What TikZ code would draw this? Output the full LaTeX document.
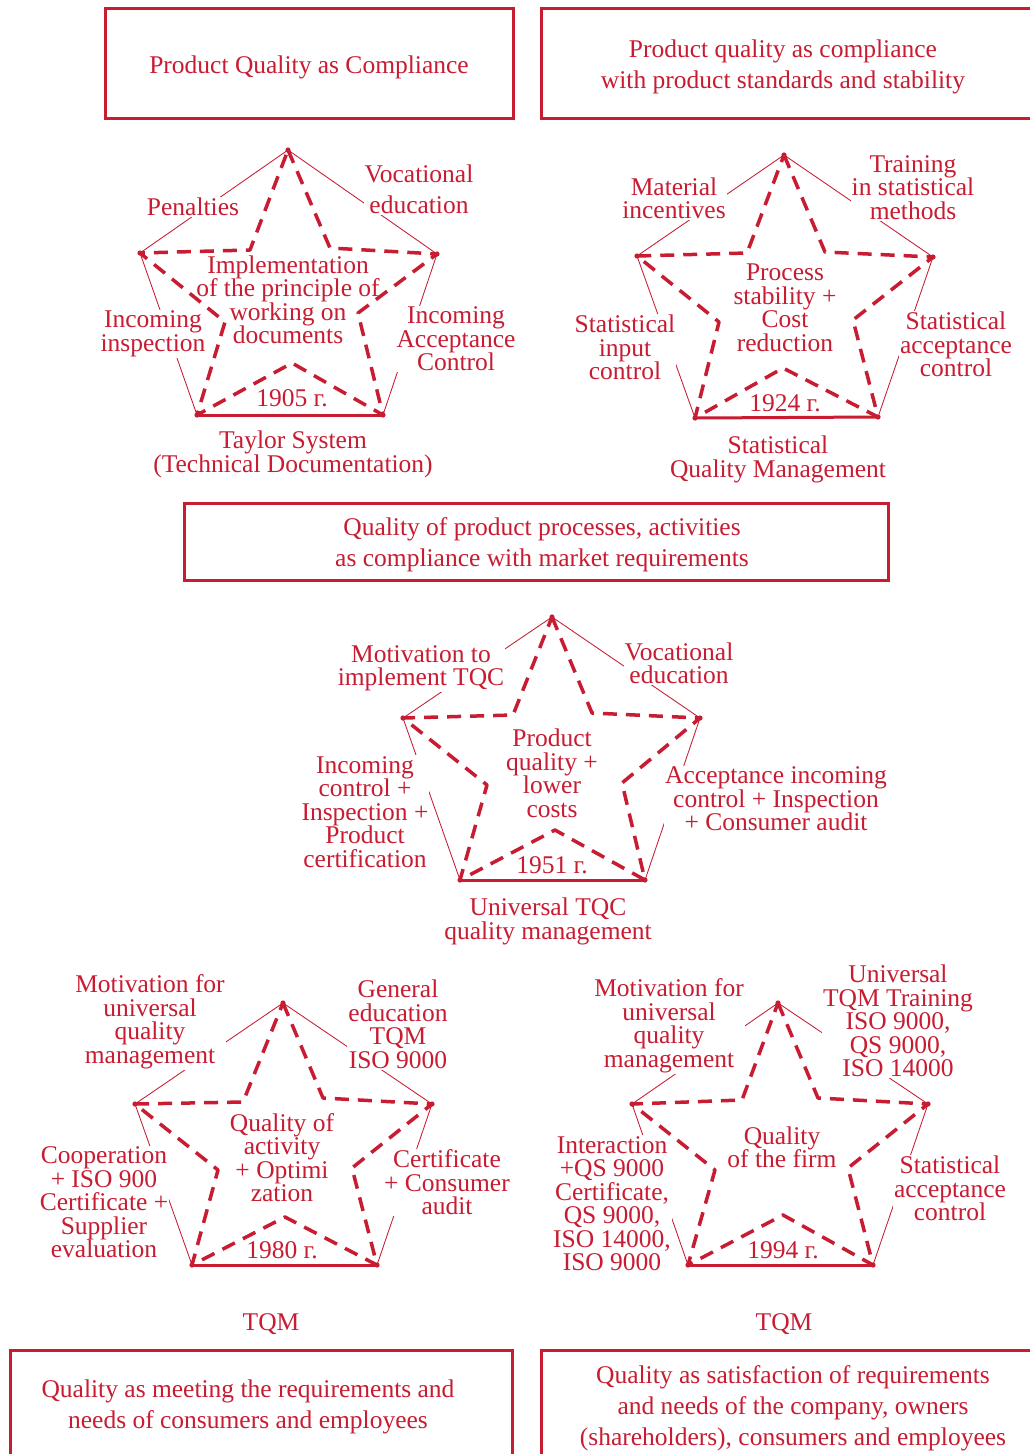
\documentclass[tikz,border=0pt]{standalone}
\usepackage{fontspec}
\setmainfont{Liberation Serif}
\definecolor{qred}{RGB}{200,28,50}
\newcommand{\qedges}[1]{%
  \draw[thinedge] (#1L) -- (#1T) -- (#1R);
  \draw[thinedge] (#1L) -- (#1BL);
  \draw[thinedge] (#1R) -- (#1BR);
  \draw[baseedge] (#1BL) -- (#1BR);
}
\newcommand{\qdashes}[1]{%
  \draw[dstar] (#1T) -- (#1ITR) -- (#1R) -- (#1ILR) -- (#1BR) -- (#1IB) -- (#1BL) -- (#1ILL) -- (#1L) -- (#1ITL) -- cycle;
  \foreach \v in {T,L,R,BL,BR} \fill[qred] (#1\v) circle (2.6pt);
}
\begin{document}
\begin{tikzpicture}[x=1pt,y=-1pt,
  lbl/.style={text=qred, font=\fontsize{25.5}{23.5}\selectfont, align=center, inner sep=1pt, fill=white, yshift=-2pt},
  ctr/.style={lbl, fill=none},
  boxtxt/.style={text=qred, font=\fontsize{25.5}{31}\selectfont, align=center, yshift=-2pt},
  frame/.style={draw=qred, line width=3pt, inner sep=0pt},
  thinedge/.style={draw=qred, line width=0.85pt},
  baseedge/.style={draw=qred, line width=3pt},
  dstar/.style={draw=qred, line width=3.5pt, dash pattern=on 14pt off 9pt, line join=round}]
\useasboundingbox (0,0) rectangle (1030,1454);
\fill[white] (0,0) rectangle (1030,1454);

% ---------- boxes ----------
\node[frame, minimum width=408pt, minimum height=110pt] (b1) at (309,63) {};
\node[boxtxt] (t1) at (309,65) {Product Quality as Compliance};
\node[frame, minimum width=491pt, minimum height=110pt] (b2) at (786.5,63) {};
\node[boxtxt] (t2) at (783,64.5) {Product quality as compliance\\with product standards and stability};
\node[frame, minimum width=704pt, minimum height=77pt] (b3) at (536,541.5) {};
\node[boxtxt] (t3) at (542,542.5) {Quality of product processes, activities\\as compliance with market requirements};
\node[frame, minimum width=502pt, minimum height=110pt] (b4) at (261,1405) {};
\node[boxtxt] (t4) at (248,1404.5) {Quality as meeting the requirements and\\needs of consumers and employees};
\node[frame, minimum width=491pt, minimum height=110pt] (b5) at (786.5,1405) {};
\node[boxtxt] (t5) at (793,1406) {Quality as satisfaction of requirements\\and needs of the company, owners\\(shareholders), consumers and employees};

% ---------- star coordinates ----------
% star 1
\coordinate (aT) at (288,150); \coordinate (aL) at (140,253); \coordinate (aR) at (437,254);
\coordinate (aBL) at (197,415); \coordinate (aBR) at (383,415);
\coordinate (aITL) at (250,250); \coordinate (aITR) at (330,248);
\coordinate (aILL) at (225,322); \coordinate (aILR) at (358,313); \coordinate (aIB) at (292,363);
% star 2
\coordinate (bT) at (784,155); \coordinate (bL) at (637,256); \coordinate (bR) at (933,257);
\coordinate (bBL) at (695,418); \coordinate (bBR) at (878,417);
\coordinate (bITL) at (747,253); \coordinate (bITR) at (825,252);
\coordinate (bILL) at (719,322); \coordinate (bILR) at (853,320); \coordinate (bIB) at (783,368);
% star 3
\coordinate (cT) at (552,617); \coordinate (cL) at (403,718); \coordinate (cR) at (700,718);
\coordinate (cBL) at (460,880); \coordinate (cBR) at (645,880);
\coordinate (cITL) at (513,715); \coordinate (cITR) at (592,713);
\coordinate (cILL) at (487,785); \coordinate (cILR) at (622,783); \coordinate (cIB) at (555,830);
% star 4
\coordinate (dT) at (283,1003); \coordinate (dL) at (135,1104); \coordinate (dR) at (432,1104);
\coordinate (dBL) at (192,1265); \coordinate (dBR) at (377,1265);
\coordinate (dITL) at (243,1102); \coordinate (dITR) at (323,1098);
\coordinate (dILL) at (218,1170); \coordinate (dILR) at (352,1168); \coordinate (dIB) at (285,1217);
% star 5
\coordinate (eT) at (778,1003); \coordinate (eL) at (632,1104); \coordinate (eR) at (928,1104);
\coordinate (eBL) at (688,1265); \coordinate (eBR) at (873,1265);
\coordinate (eITL) at (742,1100); \coordinate (eITR) at (818,1098);
\coordinate (eILL) at (715,1170); \coordinate (eILR) at (848,1168); \coordinate (eIB) at (783,1215);

% ---------- pentagon edges ----------
\qedges{a}\qedges{b}\qedges{c}\qedges{d}\qedges{e}

% ---------- outer labels ----------
% star 1
\node[lbl] (pen) at (193,205) {Penalties};
\node[lbl] (voc1) at (419,187.5) {Vocational\\[7.5pt]education};
\node[lbl] (inc1) at (153,332) {Incoming\\inspection};
\node[lbl] (acc1) at (456,337) {Incoming\\Acceptance\\Control};
\node[lbl] (tay) at (293,452.5) {Taylor System\\(Technical Documentation)};
% star 2
\node[lbl] (mat) at (674,196.5) {Material\\incentives};
\node[lbl] (trn) at (913,185.5) {Training\\in statistical\\methods};
\node[lbl] (sin) at (625,345.5) {Statistical\\input\\control};
\node[lbl] (sac) at (956,342.5) {Statistical\\acceptance\\control};
\node[lbl] (sqm) at (778,457.5) {Statistical\\Quality Management};
% star 3
\node[lbl] (mot3) at (421,666.5) {Motivation to\\implement TQC};
\node[lbl] (voc3) at (679,661.5) {Vocational\\education};
\node[lbl] (inc3) at (365,810) {Incoming\\control +\\Inspection +\\Product\\certification};
\node[lbl] (acc3) at (776,797) {Acceptance incoming\\control + Inspection\\+ Consumer audit};
\node[lbl] (utqc) at (548,919.5) {Universal TQC\\quality management};
% star 4
\node[lbl] (mot4) at (150,1020) {Motivation for\\universal\\quality\\management};
\node[lbl] (gen4) at (398,1022.5) {General\\education\\TQM\\ISO 9000};
\node[lbl] (coop4) at (104,1200.5) {Cooperation\\+ ISO 900\\Certificate +\\Supplier\\evaluation};
\node[lbl] (cert4) at (447,1180.5) {Certificate\\+ Consumer\\audit};
% star 5
\node[lbl] (mot5) at (669,1024) {Motivation for\\universal\\quality\\management};
\node[lbl] (uni5) at (898,1019) {Universal\\TQM Training\\ISO 9000,\\QS 9000,\\ISO 14000};
\node[lbl] (int5) at (612,1201.5) {Interaction\\+QS 9000\\Certificate,\\QS 9000,\\ISO 14000,\\ISO 9000};
\node[lbl] (sta5) at (950,1186.5) {Statistical\\acceptance\\control};

\node[lbl] (tqm4) at (271,1322) {TQM};
\node[lbl] (tqm5) at (784,1322) {TQM};

% ---------- dashed stars ----------
\qdashes{a}\qdashes{b}\qdashes{c}\qdashes{d}\qdashes{e}

% ---------- centre texts ----------
\node[ctr] (imp) at (288,298) {Implementation\\of the principle of\\working on\\documents};
\node[ctr] (y1) at (292,396) {1905 г.};
\node[ctr] (proc) at (785,306) {Process\\stability +\\Cost\\reduction};
\node[ctr] (y2) at (785,401) {1924 г.};
\node[ctr] (prod) at (552,771.5) {Product\\quality +\\lower\\costs};
\node[ctr] (y3) at (552,863) {1951 г.};
\node[ctr] (qa4) at (282,1155.5) {Quality of\\activity\\+ Optimi\\zation};
\node[ctr] (y4) at (282,1248) {1980 г.};
\node[ctr] (qf5) at (782,1145.5) {Quality\\of the firm};
\node[ctr] (y5) at (783,1248) {1994 г.};
\end{tikzpicture}
\end{document}
